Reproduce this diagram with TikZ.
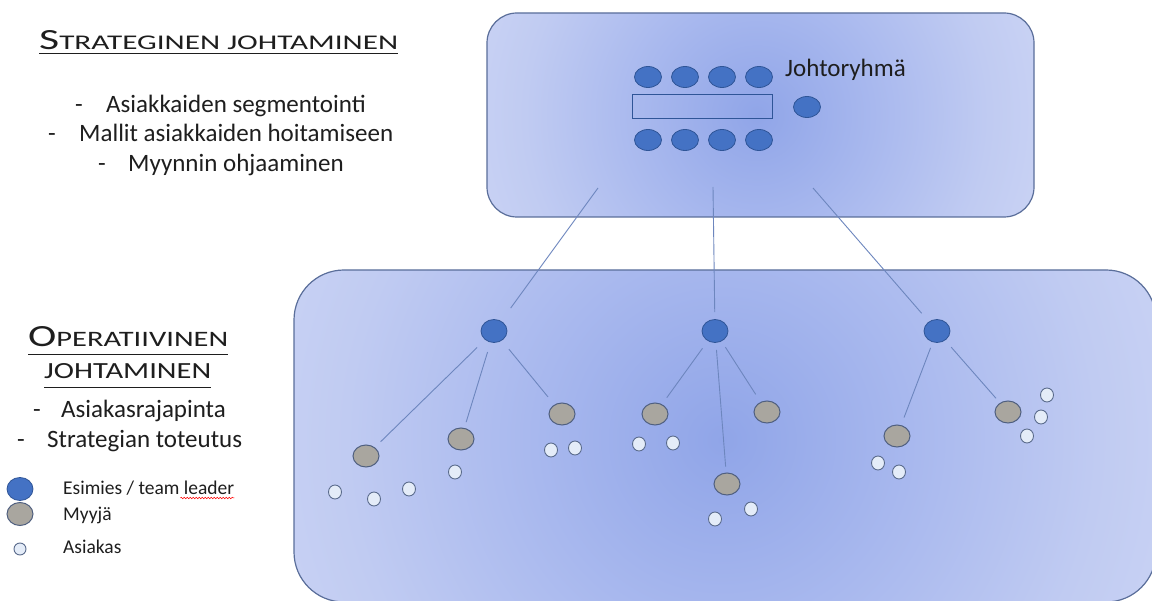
\documentclass[tikz,border=0pt]{standalone}
\usepackage{fontspec}
\setmainfont{Carlito}
\usetikzlibrary{shapes.geometric,decorations.pathmorphing}
\definecolor{sh0}{HTML}{90A5E8}
\definecolor{sh1}{HTML}{A8B8EE}
\definecolor{sh2}{HTML}{C0CBF2}
\definecolor{sh3}{HTML}{D4DBF5}
\definecolor{sh4}{HTML}{E0E5F7}
\definecolor{boxline}{HTML}{5A6E9A}
\definecolor{connc}{HTML}{6D86BE}
\definecolor{leadfill}{HTML}{4472C4}
\definecolor{leaddraw}{HTML}{2F5597}
\definecolor{grayfill}{HTML}{A9A69F}
\definecolor{graydraw}{HTML}{4F5F7F}
\definecolor{custfill}{HTML}{E4ECF8}
\definecolor{custdraw}{HTML}{5A6B8C}
\definecolor{txt}{HTML}{1E1E1E}
\pgfdeclareradialshading{boxshade}{\pgfpointorigin}{color(0bp)=(sh0); color(10bp)=(sh1); color(20bp)=(sh2); color(32bp)=(sh3); color(50bp)=(sh4)}
\newcommand{\hdbig}[1]{{\fontsize{28}{28}\selectfont #1}}
\newcommand{\hdsmall}[1]{{\fontsize{20}{20}\selectfont #1}}
\tikzset{
  bigbox/.style={draw=boxline, line width=1.2pt},
  leader/.style={ellipse, draw=leaddraw, fill=leadfill, line width=0.8pt, minimum width=26pt, minimum height=23pt, inner sep=0pt},
  tdot/.style={ellipse, draw=leaddraw, fill=leadfill, line width=0.8pt, minimum width=27pt, minimum height=21pt, inner sep=0pt},
  seller/.style={ellipse, draw=graydraw, fill=grayfill, line width=1pt, minimum width=26pt, minimum height=22pt, inner sep=0pt},
  cust/.style={ellipse, draw=custdraw, fill=custfill, line width=0.9pt, minimum width=13pt, minimum height=14pt, inner sep=0pt},
  conn/.style={draw=connc, line width=0.9pt, shorten <=8pt, shorten >=8pt},
  uline/.style={draw=txt, line width=0.8pt},
  body/.style={anchor=base west, inner sep=0pt, text=txt, font=\fontsize{25}{30}\selectfont},
  legtext/.style={anchor=base west, inner sep=0pt, text=txt, font=\fontsize{19.5}{23}\selectfont},
  head/.style={anchor=base west, inner sep=0pt, text=txt}
}
\begin{document}
\begin{tikzpicture}[x=1pt,y=-1pt]
\useasboundingbox (0,0) rectangle (1152,601);
\clip (0,0) rectangle (1152,601);
\fill[white] (0,0) rectangle (1152,601);

% boxes
\begin{scope}
  \clip[rounded corners=30pt] (487,13) rectangle (1034,217);
  \shade[shading=boxshade] (757,115) circle (290);
\end{scope}
\draw[bigbox, rounded corners=30pt] (487,13) rectangle (1034,217);
\begin{scope}
  \clip[rounded corners=50pt] (294,270) rectangle (1156,602);
  \shade[shading=boxshade] (722,440) circle (470);
\end{scope}
\draw[bigbox, rounded corners=50pt] (294,270) rectangle (1156,602);

% top box content
\foreach \i/\x in {1/648,2/685,3/722,4/759}{
  \node[tdot] (ta\i) at (\x,77) {};
  \node[tdot] (tb\i) at (\x,140) {};
}
\node[draw=leaddraw, line width=0.8pt, minimum width=140pt, minimum height=24pt, inner sep=0pt] (table) at (702,106) {};
\node[tdot] (tchair) at (807,107) {};
\node[anchor=base west, inner sep=0pt, text=txt, font=\fontsize{25}{30}\selectfont] (jr) at (785,77) {Johtoryhmä};

\coordinate (t1) at (598,188);
\coordinate (t2) at (713,187);
\coordinate (t3) at (813,188);

% leaders
\node[leader] (l1) at (494,331) {};
\node[leader] (l2) at (715,331) {};
\node[leader] (l3) at (937,331) {};

\draw[conn, shorten <=0pt, shorten >=16pt] (t1) -- (l1);
\draw[conn, shorten <=0pt, shorten >=7pt] (t2) -- (l2);
\draw[conn, shorten <=0pt, shorten >=11pt] (t3) -- (l3);

% sellers
\node[seller] (g11) at (366,456) {};
\node[seller] (g12) at (461,439) {};
\node[seller] (g13) at (562,414) {};
\node[seller] (g21) at (655,414) {};
\node[seller] (g22) at (767,412) {};
\node[seller] (g23) at (727,484) {};
\node[seller] (g31) at (897,436) {};
\node[seller] (g32) at (1008,412) {};

\draw[conn, shorten <=11pt] (l1) -- (g11);
\draw[conn, shorten <=10pt, shorten >=6pt] (l1) -- (g12);
\draw[conn, shorten <=11pt, shorten >=10pt] (l1) -- (g13);
\draw[conn, shorten <=9pt] (l2) -- (g21);
\draw[conn, shorten <=7pt, shorten >=9pt] (l2) -- (g22);
\draw[conn, shorten <=7pt, shorten >=6pt] (l2) -- (g23);
\draw[conn, shorten <=6pt] (l3) -- (g31);
\draw[conn, shorten <=9pt, shorten >=6pt] (l3) -- (g32);

% customers
\node[cust] (c111) at (335,492) {};
\node[cust] (c112) at (374,499) {};
\node[cust] (c113) at (409,489) {};
\node[cust] (c121) at (455,472) {};
\node[cust] (c131) at (551,450) {};
\node[cust] (c132) at (575,448) {};
\node[cust] (c211) at (639,444) {};
\node[cust] (c212) at (673,443) {};
\node[cust] (c231) at (715,519) {};
\node[cust] (c232) at (751,509) {};
\node[cust] (c311) at (878,463) {};
\node[cust] (c312) at (899,472) {};
\node[cust] (c321) at (1047,395) {};
\node[cust] (c322) at (1041,417) {};
\node[cust] (c323) at (1027,436) {};

% left texts: strategic
\node[head] (h1) at (39,50) {\resizebox{359pt}{19pt}{\hdbig{S}\hdsmall{TRATEGINEN JOHTAMINEN}}};
\draw[uline] ([yshift=-3pt]h1.base west) -- ([yshift=-3pt]h1.base east);
\node[body] (s1) at (75,113) {\makebox[31pt][l]{-}Asiakkaiden segmentointi};
\node[body] (s2) at (48,142) {\makebox[31pt][l]{-}Mallit asiakkaiden hoitamiseen};
\node[body] (s3) at (98,172) {\makebox[30pt][l]{-}Myynnin ohjaaminen};

% left texts: operative
\node[head] (h2) at (28,347) {\resizebox{200pt}{20pt}{\hdbig{O}\hdsmall{PERATIIVINEN}}};
\draw[uline] ([yshift=-7pt]h2.base west) -- ([yshift=-7pt]h2.base east);
\node[head] (h3) at (44,379) {\resizebox{167pt}{15pt}{\hdsmall{JOHTAMINEN}}};
\draw[uline] ([yshift=-8pt]h3.base west) -- ([yshift=-8pt]h3.base east);
\node[body] (o1) at (33,418) {\makebox[28pt][l]{-}Asiakasrajapinta};
\node[body] (o2) at (17,448) {\makebox[30pt][l]{-}Strategian toteutus};

% legend
\node[leader] (kl) at (20,489) {};
\node[seller, minimum height=23pt] (kg) at (20,514) {};
\node[cust, minimum width=12pt, minimum height=12pt] (kc) at (20,549) {};
\node[legtext] (kt1) at (63,495) {Esimies / team leader};
\node[legtext] (kt2) at (63,521) {Myyjä};
\node[legtext] (kt3) at (63,553) {Asiakas};
\draw[red, line width=0.5pt, decorate, decoration={snake, amplitude=0.8pt, segment length=3pt}] ([xshift=-54pt,yshift=-3pt]kt1.base east) -- ([yshift=-3pt]kt1.base east);
\end{tikzpicture}
\end{document}
